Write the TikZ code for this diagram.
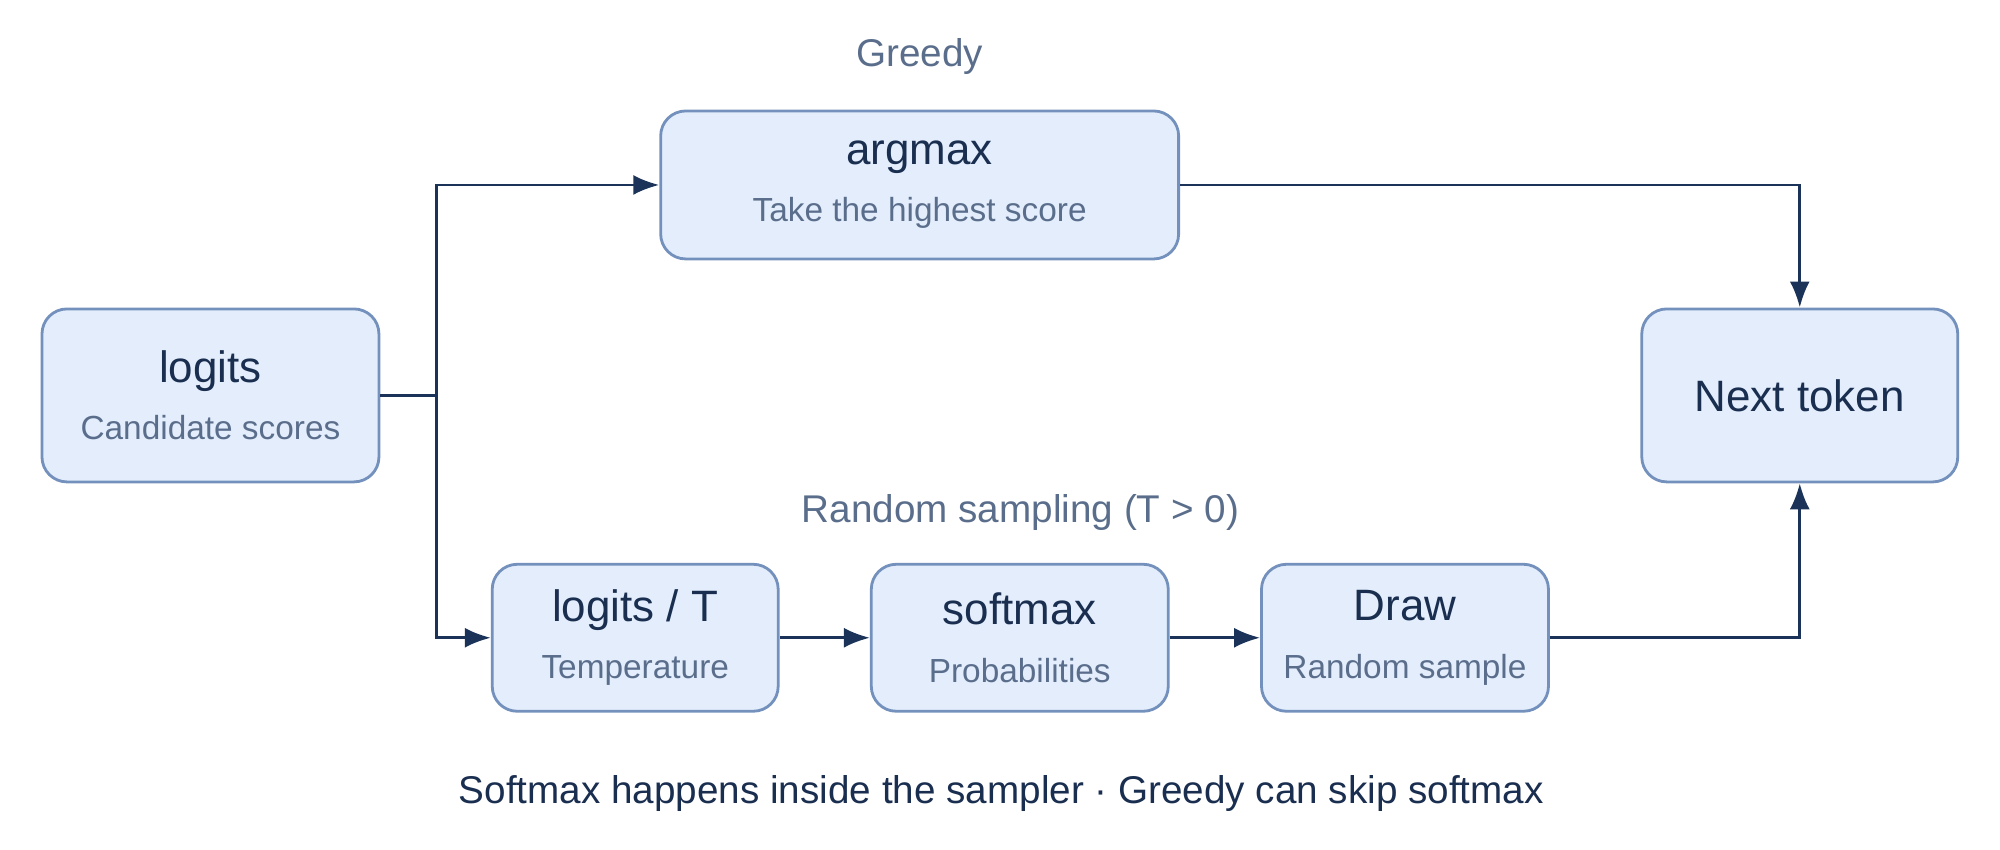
\documentclass[tikz,border=0pt]{standalone}
\usepackage{fontspec}
\setmainfont{Liberation Sans}
\usetikzlibrary{arrows.meta,positioning}
\definecolor{boxfill}{HTML}{E3EDFC}
\definecolor{boxline}{HTML}{7391BC}
\definecolor{ink}{HTML}{1A2E50}
\definecolor{soft}{HTML}{5A6E8C}
\definecolor{wire}{HTML}{1B3358}
\newcommand{\stage}[2]{{\fontsize{12.5}{14}\selectfont\color{ink}#1}\\[1.5mm]{\fontsize{9.5}{11}\selectfont\color{soft}#2}}
\begin{document}
\begin{tikzpicture}[x=0.012755cm,y=-0.012755cm,
				arrow/.style={thick, wire, -{Latex[length=2.6mm,width=2mm]}},
				block/.style={draw=boxline, fill=boxfill, thick, rounded corners=2.5mm, align=center, minimum height=1.47cm},
				big/.style={block, minimum width=3.37cm, minimum height=1.73cm},
				note/.style={text=soft, font=\fontsize{11}{13}\selectfont},
			]
				\useasboundingbox (0,0) rectangle (1568,666);
				\node[big] (logits) at (165,310) {\stage{logits}{Candidate scores}};
				\node[block, minimum width=5.18cm, minimum height=1.48cm] (argmax) at (721,145) {\stage{argmax}{Take the highest score}};
				\node[big, minimum width=3.16cm] (next) at (1411,310) {\fontsize{12.5}{14}\selectfont\color{ink}Next token};
				\node[block, minimum width=2.86cm] (scale) at (498,500) {\stage{logits / T}{Temperature}};
				\node[block, minimum width=2.97cm] (softmax) at (799.5,500) {\stage{softmax}{Probabilities}};
				\node[block, minimum width=2.87cm] (draw) at (1101.5,500) {\stage{Draw}{Random sample}};

				\coordinate (split) at (342,310);
				\node[note] (greedy) at (721,44) {Greedy};
				\node[note] (random) at (800,402) {Random sampling (T > 0)};
				\node[text=ink, font=\fontsize{11}{13}\selectfont] (caption) at (785,622) {Softmax happens inside the sampler · Greedy can skip softmax};

				\draw[thick, wire] (logits.east) -- (split);
				\draw[arrow] (split) |- (argmax.west);
				\draw[arrow] (split) |- (scale.west);
				\draw[arrow] (scale) -- (softmax);
				\draw[arrow] (softmax) -- (draw);
				\draw[arrow] (argmax.east) -| (next.north);
				\draw[arrow] (draw.east) -| (next.south);
			\end{tikzpicture}
\end{document}
